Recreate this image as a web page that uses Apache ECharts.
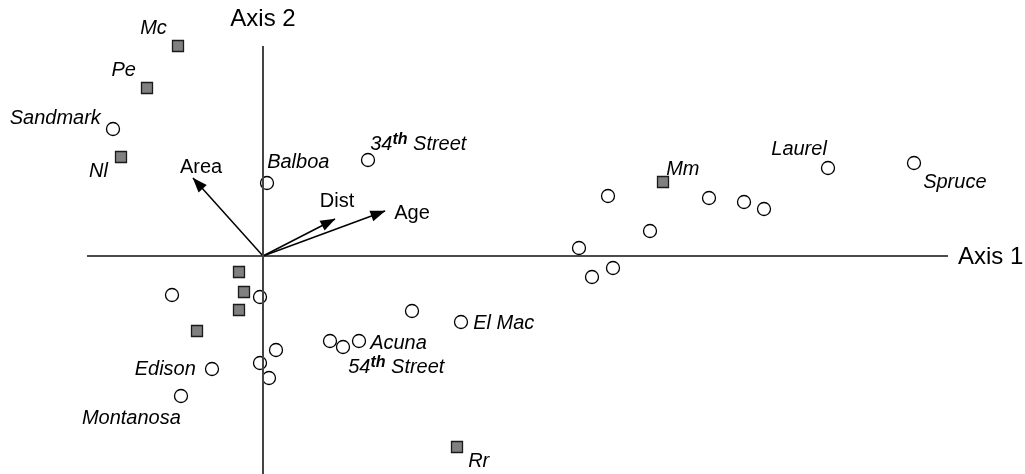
<!DOCTYPE html>
<html>
<head>
<meta charset="utf-8">
<script src="https://cdn.jsdelivr.net/npm/echarts@6/dist/echarts.min.js"></script>
<style>
html,body{margin:0;padding:0;background:#fff;}
#chart{width:1025px;height:474px;}
</style>
</head>
<body>
<div id="chart"></div>
<script>
// ---- Data (ordination scores) ----
const squareNames = ['Mc', 'Pe', 'Nl', 'Mm', 'Rr', '', '', '', ''];
const squareX = [-0.85, -1.16, -1.42, 4.00, 1.94, -0.24, -0.19, -0.24, -0.66];
const squareY = [2.10, 1.68, 0.99, 0.74, -1.91, -0.16, -0.36, -0.54, -0.75];

const circleNames = ['Sandmark', 'Balboa', '34th Street', 'Laurel', 'Spruce',
  '', '', '', '', '', '', '', '',
  '', '', '', '', '', 'Edison', 'Montanosa',
  '', 'El Mac', '', '54th Street', 'Acuna'];
const circleX = [-1.50, 0.04, 1.05, 5.65, 6.51,
  3.45, 4.46, 4.81, 5.01, 3.87, 3.16, 3.29, 3.50,
  -0.91, -0.03, 0.13, -0.03, 0.06, -0.51, -0.82,
  1.49, 1.98, 0.67, 0.80, 0.96];
const circleY = [1.27, 0.73, 0.96, 0.88, 0.93,
  0.60, 0.58, 0.54, 0.47, 0.25, 0.08, -0.21, -0.12,
  -0.39, -0.41, -0.94, -1.07, -1.22, -1.13, -1.40,
  -0.55, -0.66, -0.85, -0.91, -0.85];

const vectorNames = ['Area', 'Dist', 'Age'];
const vectorX = [-0.70, 0.72, 1.22];
const vectorY = [0.78, 0.37, 0.45];

const axisNames = ['Axis 1', 'Axis 2'];
const axis1Extent = [-1.76, 6.85];
const axis2Extent = [-2.40, 2.10];

// ---- Layout / style ----
const FONT = "'Liberation Sans', Arial, Helvetica, sans-serif";
const labelPlace = {
  'Mc': {position: 'left', distance: 5, offset: [0, -18]},
  'Pe': {position: 'left', distance: 5, offset: [0, -18]},
  'Sandmark': {position: 'left', distance: 5, offset: [0, -11]},
  'Nl': {position: 'left', distance: 7, offset: [0, 14]},
  'Balboa': {position: 'right', distance: 5, offset: [-12, -21]},
  '34th Street': {position: 'right', distance: 5, offset: [-10, -16]},
  'Mm': {position: 'right', distance: 5, offset: [-8, -13]},
  'Laurel': {position: 'left', distance: 5, offset: [11, -19]},
  'Spruce': {position: 'right', distance: 5, offset: [-3, 19]},
  'El Mac': {position: 'right', distance: 5, offset: [0, 1]},
  'Acuna': {position: 'right', distance: 5, offset: [-1, 2]},
  '54th Street': {position: 'right', distance: 5, offset: [-7, 20]},
  'Edison': {position: 'left', distance: 5, offset: [-4, 0]},
  'Montanosa': {position: 'left', distance: 5, offset: [12, 22]},
  'Rr': {position: 'right', distance: 5, offset: [0, 14]}
};
const vectorLabelOffset = {'Area': [8, -11], 'Dist': [2, -18], 'Age': [27, 2]};
const axisLabelPlace = {
  'Axis 1': {position: 'right', distance: 10, offset: [0, 1]},
  'Axis 2': {position: 'top', distance: 15, offset: [0, 0]}
};

const richStyles = {
  n: {fontFamily: FONT, fontSize: 20, fontStyle: 'italic', color: '#000'},
  s: {fontFamily: FONT, fontSize: 16, fontStyle: 'italic', fontWeight: 'bold', color: '#000', padding: [0, 0, 8, 0]}
};
function siteLabel(name) {
  if (!name) return '';
  const m = name.match(/^(\d+)th (.*)$/);
  if (m) return '{n|' + m[1] + '}{s|th}{n| ' + m[2] + '}';
  return '{n|' + name + '}';
}
function buildPoints(names, xs, ys) {
  return xs.map((x, i) => {
    const nm = names[i];
    const item = {name: nm, value: [x, ys[i]]};
    if (nm && labelPlace[nm]) {
      item.label = Object.assign({show: true}, labelPlace[nm]);
    }
    return item;
  });
}

const chart = echarts.init(document.getElementById('chart'), null, {renderer: 'canvas'});
const option = {
  backgroundColor: '#fff',
  animation: false,
  grid: {left: 0, right: 0, top: 0, bottom: 0, containLabel: false},
  xAxis: {type: 'value', min: -2.63, max: 7.62, show: false},
  yAxis: {type: 'value', min: -2.18, max: 2.56, show: false},
  series: [
    {
      name: 'circles', type: 'scatter', z: 3,
      symbol: 'circle', symbolSize: 13,
      itemStyle: {color: '#fff', borderColor: '#000', borderWidth: 1.3, opacity: 1},
      label: {show: false, color: '#000', formatter: p => siteLabel(p.name), rich: richStyles},
      emphasis: {disabled: true},
      data: buildPoints(circleNames, circleX, circleY)
    },
    {
      name: 'squares', type: 'scatter', z: 3,
      symbol: 'rect', symbolSize: 11,
      itemStyle: {color: '#808080', borderColor: '#1a1a1a', borderWidth: 1.3, opacity: 1},
      label: {show: false, color: '#000', formatter: p => siteLabel(p.name), rich: richStyles},
      emphasis: {disabled: true},
      data: buildPoints(squareNames, squareX, squareY)
    },
    {
      name: 'axis1', type: 'line', z: 4, silent: true,
      symbol: 'none', showSymbol: false,
      lineStyle: {color: '#111', width: 1.5},
      data: [[axis1Extent[0], 0], [axis1Extent[1], 0]]
    },
    {
      name: 'axis2', type: 'line', z: 5, silent: true,
      symbol: 'none', showSymbol: false,
      lineStyle: {color: '#444', width: 2},
      data: [[0, axis2Extent[0]], [0, axis2Extent[1]]]
    },
    {
      name: 'axisTitles', type: 'scatter', z: 6, silent: true,
      symbolSize: 0,
      itemStyle: {opacity: 1},
      emphasis: {disabled: true},
      label: {show: true, formatter: p => p.name, fontFamily: FONT, fontSize: 24, color: '#000'},
      data: [
        {name: axisNames[0], value: [axis1Extent[1], 0], label: axisLabelPlace[axisNames[0]]},
        {name: axisNames[1], value: [0, axis2Extent[1]], label: axisLabelPlace[axisNames[1]]}
      ]
    },
    {
      name: 'vectors', type: 'scatter', z: 6, silent: true,
      symbolSize: 0,
      itemStyle: {opacity: 1},
      emphasis: {disabled: true},
      label: {
        show: true, position: 'inside', formatter: p => p.name,
        fontFamily: FONT, fontSize: 20, color: '#000'
      },
      data: vectorNames.map((n, i) => ({
        name: n, value: [vectorX[i], vectorY[i]],
        label: {offset: vectorLabelOffset[n]}
      })),
      markLine: {
        silent: true, animation: false,
        symbol: ['none', 'triangle'], symbolSize: [11, 15],
        symbolOffset: [[0, 0], [0, 7]],
        lineStyle: {color: '#000', width: 1.5, type: 'solid'},
        itemStyle: {color: '#000'},
        label: {show: false},
        data: vectorNames.map((n, i) => [
          {coord: [0, 0]},
          {coord: [vectorX[i], vectorY[i]]}
        ])
      }
    }
  ]
};
chart.setOption(option);
</script>
</body>
</html>
